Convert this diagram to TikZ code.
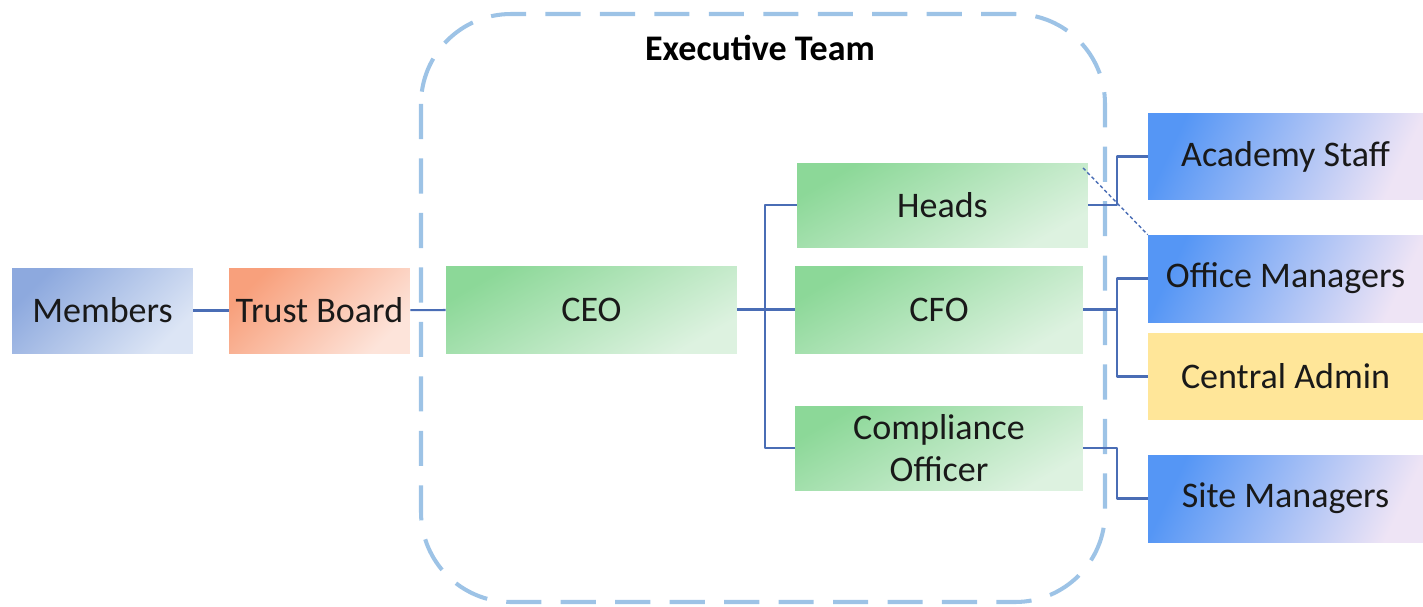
\documentclass[tikz,border=0pt]{standalone}
\usepackage{fontspec}
\setmainfont{Carlito}
\definecolor{linkblue}{HTML}{4A6DB5}
\definecolor{teamblue}{HTML}{9DC3E6}
\definecolor{membA}{HTML}{8DA9DE}
\definecolor{membB}{HTML}{DCE5F5}
\definecolor{trustA}{HTML}{F8A07C}
\definecolor{trustB}{HTML}{FDE4DA}
\definecolor{execA}{HTML}{8CD898}
\definecolor{execB}{HTML}{DDF2E0}
\definecolor{staffA}{HTML}{5596F5}
\definecolor{staffM}{HTML}{7FBEFB}
\definecolor{staffB}{HTML}{EEE4F5}
\definecolor{adminY}{HTML}{FFE699}
\begin{document}
\begin{tikzpicture}[x=0.02cm, y=-0.02cm, font=\fontsize{20.5}{24}\selectfont, line join=round,
	box/.style={inner sep=0pt, text=black!90, align=center},
	members/.style={box, top color=membA, bottom color=membB, shading angle=45},
	trust/.style={box, top color=trustA, bottom color=trustB, shading angle=45},
	exec/.style={box, top color=execA, bottom color=execB, shading angle=30},
	staff/.style={box, left color=staffA, middle color=staffM, right color=staffB, shading angle=65},
	admin/.style={box, fill=adminY},
	link/.style={draw=linkblue, line width=1.2pt},
	dashlink/.style={draw=linkblue, line width=0.8pt, dash pattern=on 2pt off 1.5pt},
	teamline/.style={draw=teamblue, line width=2.3pt, dash pattern=on 20pt off 11pt, rounded corners=1.8cm}]
	\def\ceobus{765} \def\rbus{1117} % x der Sammelleitungen
	\useasboundingbox (0,0) rectangle (1423,606);
	% Executive Team
	\draw[teamline] (421,14) rectangle (1105,602);
	\node[font=\fontsize{20.5}{24}\selectfont\bfseries] (title) at (760,48) {Executive Team};
	% Kästen
	\node[members, minimum width=3.62cm, minimum height=1.7cm] (members) at (102.5,310.5) {Members};
	\node[trust, minimum width=3.62cm, minimum height=1.7cm] (trust) at (319.5,310.5) {Trust Board};
	\node[exec, minimum width=5.82cm, minimum height=1.74cm] (ceo) at (591.5,309.5) {CEO};
	\node[exec, minimum width=5.82cm, minimum height=1.68cm] (heads) at (942.5,205) {Heads};
	\node[exec, minimum width=5.76cm, minimum height=1.74cm] (cfo) at (939,309.5) {CFO};
	\node[exec, minimum width=5.76cm, minimum height=1.68cm] (comp) at (939,448) {Compliance\\[0pt]Officer};
	\node[staff, minimum width=5.5cm, minimum height=1.74cm] (academy) at (1285.5,156.5) {Academy Staff};
	\node[staff, minimum width=5.5cm, minimum height=1.74cm] (office) at (1285.5,278.5) {Office Managers};
	\node[admin, minimum width=5.5cm, minimum height=1.74cm] (central) at (1285.5,376.5) {Central Admin};
	\node[staff, minimum width=5.5cm, minimum height=1.74cm] (site) at (1285.5,498.5) {Site Managers};
	% Verbindungen
	\coordinate (cbus) at (\ceobus,309.5);
	\coordinate (hbus) at (\rbus,205);
	\coordinate (fbus) at (\rbus,309.5);
	\coordinate (sbus) at (\rbus,448);
	\draw[link] (members) -- (trust);
	\draw[link] (trust) -- (ceo);
	\draw[link] (ceo) -- (cfo);
	\draw[link] (heads.west) -| (cbus) |- (comp.west);
	\draw[link] (heads.east) -- (hbus) |- (academy.west);
	\draw[link] (cfo) -- (fbus);
	\draw[link] (office.west) -| (fbus) |- (central.west);
	\draw[link] (comp.east) -- (sbus) |- (site.west);
	\draw[dashlink] ([xshift=-3pt,yshift=-3pt]heads.north east) -- (office.north west);
\end{tikzpicture}
\end{document}
